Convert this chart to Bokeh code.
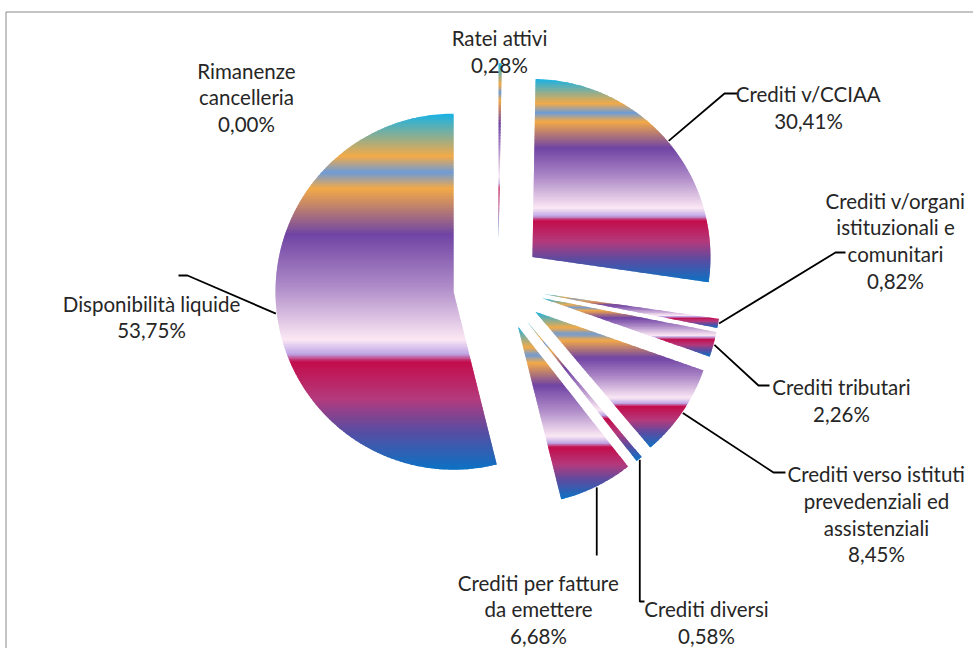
import math
from bokeh.plotting import figure
from bokeh.models import Range1d, ColumnDataSource
from bokeh.embed import file_html
from bokeh.resources import INLINE
from bokeh.core.properties import value

# ---------------- data ----------------
categories = [
    "Ratei attivi",
    "Crediti v/CCIAA",
    "Crediti v/organi istituzionali e comunitari",
    "Crediti tributari",
    "Crediti verso istituti prevedenziali ed assistenziali",
    "Crediti diversi",
    "Crediti per fatture da emettere",
    "Disponibilità liquide",
    "Rimanenze cancelleria",
]
# slice sizes as drawn in the picture (percent of the pie)
slice_share = [0.28, 26.90, 0.82, 2.26, 8.45, 0.58, 6.68, 53.75, 0.00]
# percentage texts printed in the data labels
pct_labels = ["0,28%", "30,41%", "0,82%", "2,26%", "8,45%", "0,58%", "6,68%", "53,75%", "0,00%"]
# category names broken into lines as printed
label_lines = [
    ["Ratei attivi"],
    ["Crediti v/CCIAA"],
    ["Crediti v/organi", "istituzionali e", "comunitari"],
    ["Crediti tributari"],
    ["Crediti verso istituti", "prevedenziali ed", "assistenziali"],
    ["Crediti diversi"],
    ["Crediti per fatture", "da emettere"],
    ["Disponibilità liquide"],
    ["Rimanenze", "cancelleria"],
]

# ---------------- layout / style ----------------
W, H = 973, 648
X0, Y0 = 0, 0
CX, CY = 497.7, 285.7             # pie centre (screen px, y down)
R = 178.0
EXPLODE = 45.0
STRIP = 1.5
LINE_H = 26.8
FONT = "Lato"
FONT_SIZE = "20.5px"
TEXT_COLOR = "#262626"

label_pos = [  # (x centre, first baseline)
    (499, 37.5),
    (808, 93.5),
    (895, 200.0),
    (841, 386.5),
    (876, 473.5),
    (706, 608.5),
    (538, 582.0),
    (151, 303.0),
    (246, 70.0),
]
# leader line: list of points after the slice anchor; "same_x" keeps the anchor x
leaders = [
    None,
    [(724, 93), (737, 93)],
    [(835, 252), (845, 252)],
    [(758, 385), (769, 385)],
    [(773, 472), (785, 472)],
    [("same_x", 601), (644, 601)],
    [("same_x", 555)],
    [(187, 275), (178, 275)],
    None,
]

stops = [
    (0.000, "#17b2e6"), (0.120, "#f3aa48"), (0.165, "#6e9bd6"), (0.210, "#f3aa48"),
    (0.340, "#7044a4"), (0.490, "#b18ec9"), (0.635, "#fbe8f4"), (0.675, "#bea5e6"),
    (0.697, "#c30c4b"), (0.800, "#b43a7c"), (0.890, "#5a4ca1"), (1.000, "#0b72c4"),
]


def hex2rgb(h):
    h = h.lstrip("#")
    return tuple(int(h[i:i + 2], 16) for i in (0, 2, 4))


stops_rgb = [(t, hex2rgb(c)) for t, c in stops]


def grad(t):
    t = min(max(t, 0.0), 1.0)
    for (t0, c0), (t1, c1) in zip(stops_rgb[:-1], stops_rgb[1:]):
        if t <= t1:
            f = 0 if t1 == t0 else (t - t0) / (t1 - t0)
            c = [round(a + f * (b - a)) for a, b in zip(c0, c1)]
            return "#%02x%02x%02x" % tuple(c)
    return stops[-1][1]


def u(a_deg):  # clockwise from 12 o'clock, screen coords (y down)
    a = math.radians(a_deg)
    return math.sin(a), -math.cos(a)


def clip(poly, yc, keep_ge):
    out = []
    n = len(poly)
    for i in range(n):
        p, q = poly[i], poly[(i + 1) % n]
        pin = p[1] >= yc if keep_ge else p[1] <= yc
        qin = q[1] >= yc if keep_ge else q[1] <= yc
        if pin:
            out.append(p)
        if pin != qin:
            t = (yc - p[1]) / (q[1] - p[1])
            out.append((p[0] + t * (q[0] - p[0]), yc))
    return out


total = sum(slice_share)
xs, ys, cols = [], [], []
anchors = []
start = 0.0
for share in slice_share:
    sweep = share / total * 360.0
    a0, a1 = start, start + sweep
    start = a1
    mid = (a0 + a1) / 2
    ux, uy = u(mid)
    ax, ay = CX + EXPLODE * ux, CY + EXPLODE * uy
    anchors.append((ax + (R + 1) * ux, ay + (R + 1) * uy))
    if sweep <= 0:
        continue
    n = max(2, int(math.ceil(sweep / 0.5)) + 1)
    poly = [(ax, ay)]
    for k in range(n):
        a = a0 + sweep * k / (n - 1)
        vx, vy = u(a)
        poly.append((ax + R * vx, ay + R * vy))
    ymin = min(p[1] for p in poly)
    ymax = max(p[1] for p in poly)
    hgt = ymax - ymin
    ns = max(1, int(math.ceil(hgt / STRIP)))
    for i in range(ns):
        ya = ymin + hgt * i / ns
        yb = ymin + hgt * (i + 1) / ns + (1.0 if i < ns - 1 else 0)
        piece = clip(clip(poly, ya, True), yb, False)
        if len(piece) < 3:
            continue
        xs.append([p[0] for p in piece])
        ys.append([p[1] for p in piece])
        cols.append(grad((i + 0.5) / ns))

p = figure(width=W, height=H, output_backend="svg", toolbar_location=None,
           x_axis_type=None, y_axis_type=None,
           x_range=Range1d(X0, X0 + W), y_range=Range1d(Y0 + H, Y0))
p.min_border = 0
p.grid.visible = False
p.outline_line_color = None
p.background_fill_color = "white"
p.border_fill_color = "white"

# chart area frame (top and left edges visible in the picture)
p.line(x=[5.5, X0 + W], y=[11.5, 11.5], line_color="#8a8a8a", line_width=1)
p.line(x=[5.5, 5.5], y=[11.5, Y0 + H], line_color="#8a8a8a", line_width=1)

p.patches(xs="xs", ys="ys", fill_color="c", line_color=None,
          source=ColumnDataSource(dict(xs=xs, ys=ys, c=cols)))

# leader lines
lx, ly = [], []
for anc, pts in zip(anchors, leaders):
    if not pts:
        continue
    px = [anc[0]]
    py = [anc[1]]
    for (qx, qy) in pts:
        px.append(anc[0] if qx == "same_x" else qx)
        py.append(qy)
    lx.append(px)
    ly.append(py)
p.multi_line(xs=lx, ys=ly, line_color="black", line_width=1.8)

# data labels
tx, ty, tt = [], [], []
for (x, y), lines, pct in zip(label_pos, label_lines, pct_labels):
    for k, s in enumerate(lines + [pct]):
        tx.append(x)
        ty.append(y + k * LINE_H)
        tt.append(s)
p.text(x=tx, y=ty, text=tt, text_font=value(FONT), text_font_size=FONT_SIZE,
       text_align="center", text_baseline="alphabetic", text_color=TEXT_COLOR)

open("out.html", "w").write(file_html(p, INLINE))
